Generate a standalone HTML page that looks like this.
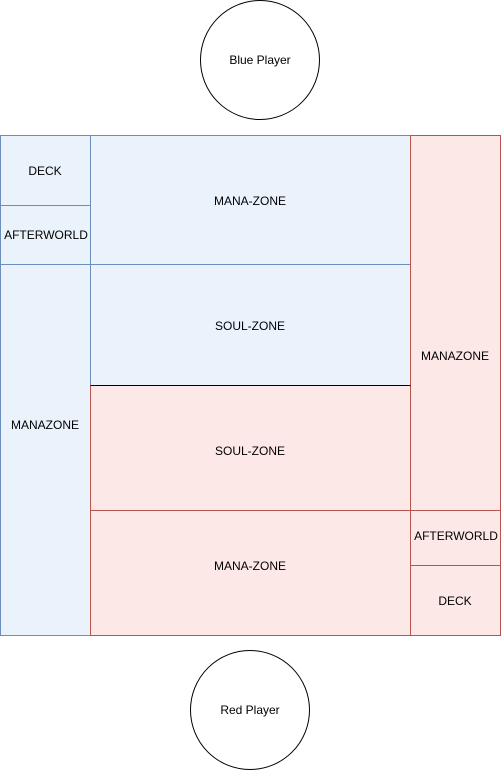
<!DOCTYPE html>
<html><head><meta charset="utf-8"><style>html,body{margin:0;padding:0;background:#fff}svg{display:block}</style></head>
<body>
<svg width="503" height="771" viewBox="0 0 503 771" xmlns="http://www.w3.org/2000/svg" font-family="Liberation Sans, sans-serif" font-size="12" text-anchor="middle" fill="#000">
<circle cx="260" cy="60" r="59.5" fill="#fff" stroke="#000"/>
<text x="260" y="64">Blue Player</text>
<circle cx="250" cy="710" r="59.5" fill="#fff" stroke="#000"/>
<text x="250" y="714">Red Player</text>
<g fill="#eaf2fc" stroke="#6c8ebf">
<rect x="0.5" y="135.5" width="90" height="70"/>
<rect x="0.5" y="205.5" width="90" height="59"/>
<rect x="0.5" y="264.5" width="90" height="371"/>
<rect x="90.5" y="135.5" width="320" height="129"/>
<rect x="90.5" y="264.5" width="320" height="121"/>
</g>
<g fill="#fce8e6" stroke="#b85450">
<rect x="410.5" y="135.5" width="90" height="375"/>
<rect x="410.5" y="510.5" width="90" height="55"/>
<rect x="410.5" y="565.5" width="90" height="70"/>
<rect x="90.5" y="385.5" width="320" height="125"/>
<rect x="90.5" y="510.5" width="320" height="125"/>
</g>
<line x1="90.5" y1="385.5" x2="410.5" y2="385.5" stroke="#000"/>
<text x="45" y="175">DECK</text>
<text x="46" y="239">AFTERWORLD</text>
<text x="45" y="429">MANAZONE</text>
<text x="250" y="205">MANA-ZONE</text>
<text x="250" y="330">SOUL-ZONE</text>
<text x="250" y="455">SOUL-ZONE</text>
<text x="250" y="570">MANA-ZONE</text>
<text x="455" y="360">MANAZONE</text>
<text x="456" y="540">AFTERWORLD</text>
<text x="455" y="605">DECK</text>
</svg>
</body></html>
